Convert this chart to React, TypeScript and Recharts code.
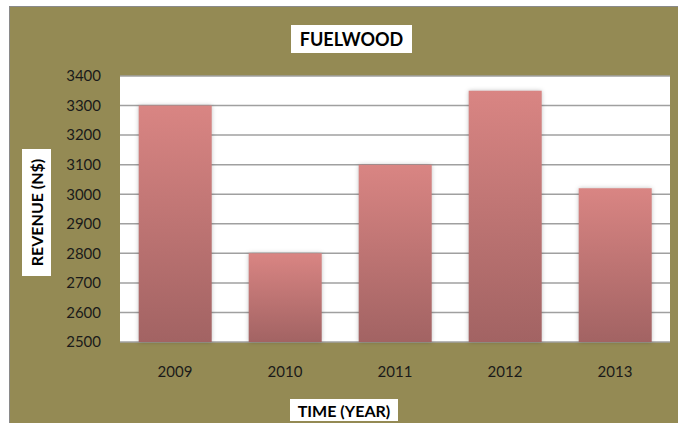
import React from "react";
import { BarChart, Bar, XAxis, YAxis, CartesianGrid } from "recharts";

const years = ["2009", "2010", "2011", "2012", "2013"];
const revenue = [3300, 2800, 3100, 3350, 3020];
const yTicks = [2500, 2600, 2700, 2800, 2900, 3000, 3100, 3200, 3300, 3400];

const data = years.map((year, i) => ({ year, revenue: revenue[i] }));

const OLIVE = "#948a54";
const FONT = "Lato, 'Liberation Sans', sans-serif";

const boxStyle: React.CSSProperties = {
  position: "absolute",
  background: "#fff",
  color: "#000",
  fontFamily: FONT,
  fontWeight: 700,
  display: "flex",
  alignItems: "center",
  justifyContent: "center",
  whiteSpace: "nowrap",
};

export default function App() {
  return (
    <div style={{ position: "absolute", left: 0, top: 0, width: 678, height: 423, background: "#fff" }}>
      <div
        style={{
          position: "absolute",
          left: 9,
          top: 6,
          width: 669,
          height: 417,
          background: OLIVE,
          borderLeft: "1px solid #8a8a8a",
          borderTop: "1px solid #8a8a8a",
        }}
      />
      <div style={{ position: "absolute", left: 0, top: 0 }}>
        <BarChart
          width={678}
          height={423}
          data={data}
          margin={{ top: 76, right: 8, bottom: 51, left: 0 }}
          barCategoryGap="17%"
        >
          <defs>
            <linearGradient id="barFill" x1="0" y1="0" x2="0" y2="1">
              <stop offset="0%" stopColor="#d98583" />
              <stop offset="100%" stopColor="#a26363" />
            </linearGradient>
          </defs>
          <CartesianGrid vertical={false} fill="#fff" stroke="#a0a0a0" strokeWidth={1.5} />
          <XAxis
            dataKey="year"
            height={30}
            axisLine={false}
            tickLine={false}
            tickSize={0}
            tickMargin={24}
            tick={{ fill: "#1a1a1a", fontSize: 15, fontFamily: FONT }}
          />
          <YAxis
            width={120}
            domain={[2500, 3400]}
            ticks={yTicks}
            axisLine={false}
            tickLine={false}
            tickSize={0}
            tickMargin={19}
            tick={{ fill: "#1a1a1a", fontSize: 15, fontFamily: FONT }}
          />
          <Bar
            dataKey="revenue"
            fill="url(#barFill)"
            isAnimationActive={false}
            style={{ filter: "drop-shadow(0px 0px 2px rgba(0,0,0,0.25))" }}
          />
        </BarChart>
      </div>
      <div style={{ ...boxStyle, left: 291, top: 25, width: 121, height: 28, fontSize: 18 }}>FUELWOOD</div>
      <div
        style={{
          ...boxStyle,
          left: 22,
          top: 149,
          width: 29,
          height: 127,
        }}
      >
        <span style={{ transform: "rotate(-90deg)", fontSize: 16, display: "inline-block" }}>REVENUE (N$)</span>
      </div>
      <div style={{ ...boxStyle, left: 290, top: 399, width: 108, height: 22, fontSize: 16 }}>TIME (YEAR)</div>
    </div>
  );
}
